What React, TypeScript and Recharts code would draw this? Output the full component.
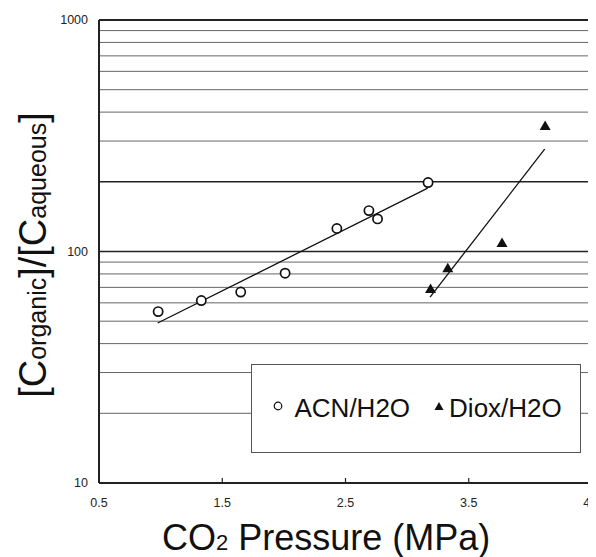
import React from 'react';
import { ScatterChart, Scatter, XAxis, YAxis, ReferenceLine, Legend } from 'recharts';

const acnPressure = [0.98, 1.33, 1.65, 2.01, 2.43, 2.69, 2.76, 3.17];
const acnRatio = [55, 61.4, 66.8, 80.6, 125.7, 150.2, 138.3, 198.5];
const dioxPressure = [3.19, 3.33, 3.77, 4.12];
const dioxRatio = [68.8, 84.7, 108.7, 348.7];
const acnFitPressure = [0.976, 3.167];
const acnFitRatio = [49.1, 187.7];
const dioxFitPressure = [3.186, 4.116];
const dioxFitRatio = [63.5, 276.6];
const xTicks = [0.5, 1.5, 2.5, 3.5, 4.5];
const yTicks = [10, 100, 1000];
const gridMinor = [20, 30, 40, 50, 60, 70, 80, 90, 300, 400, 500, 600, 700, 800, 900];
const gridMajor = [100, 200];

const zip = (ps: number[], rs: number[]) => ps.map((p, i) => ({ p, r: rs[i] }));
const acnData = zip(acnPressure, acnRatio);
const dioxData = zip(dioxPressure, dioxRatio);
const acnFit = zip(acnFitPressure, acnFitRatio);
const dioxFit = zip(dioxFitPressure, dioxFitRatio);

const FONT = '"Liberation Sans", Arial, Helvetica, sans-serif';

const Circle = (props: any) => (
  <circle cx={props.cx} cy={props.cy} r={4.6} fill="#fff" stroke="#111" strokeWidth={1.7} />
);
const Triangle = (props: any) => {
  const { cx, cy } = props;
  return <path d={`M${cx},${cy - 5.5} L${cx + 5.5},${cy + 4} L${cx - 5.5},${cy + 4} Z`} fill="#111" />;
};
const Empty = () => <g />;

const XTick = (props: any) => {
  const { x, y, payload } = props;
  const axisY = y - 15;
  return (
    <g>
      <line x1={x} x2={x} y1={axisY} y2={axisY - 5} stroke="#222" strokeWidth={1.2} />
      <text x={x} y={y} dy="0.71em" textAnchor="middle" fontFamily={FONT} fontSize={12.5} fill="#222">
        {String(payload.value)}
      </text>
    </g>
  );
};

const YTick = (props: any) => {
  const { x, y, payload } = props;
  return (
    <text x={x} y={y} dy="0.355em" textAnchor="end" fontFamily={FONT} fontSize={12.5} fill="#222">
      {String(payload.value)}
    </text>
  );
};

const YTitle = () => (
  <text transform="translate(38,247) rotate(-90)" textAnchor="middle" fontFamily={FONT} fill="#111">
    <tspan fontSize={38}>[C</tspan>
    <tspan fontSize={25}>organic</tspan>
    <tspan fontSize={38}>]/[C</tspan>
    <tspan fontSize={25}>aqueous</tspan>
    <tspan fontSize={38}>]</tspan>
  </text>
);

const XTitle = () => (
  <text x={154} y={542} fontFamily={FONT} fill="#111">
    <tspan fontSize={36}>CO</tspan>
    <tspan fontSize={22}>2</tspan>
    <tspan fontSize={36}> Pressure (MPa)</tspan>
  </text>
);

const LegendBox = () => (
  <div
    style={{
      boxSizing: 'border-box',
      width: 330,
      height: 89,
      border: '1.5px solid #555',
      background: '#fff',
      display: 'flex',
      alignItems: 'center',
      fontFamily: FONT,
      fontSize: 26,
      color: '#111',
      whiteSpace: 'nowrap',
    }}
  >
    <svg width={10} height={10} style={{ marginLeft: 20.5, position: 'relative', top: -3 }}>
      <circle cx={5} cy={5} r={3.8} fill="none" stroke="#111" strokeWidth={1.2} />
    </svg>
    <span style={{ marginLeft: 12 }}>ACN/H2O</span>
    <svg width={10} height={10} style={{ marginLeft: 24, position: 'relative', top: -3 }}>
      <path d="M5,1 L9.5,9 L0.5,9 Z" fill="#111" />
    </svg>
    <span style={{ marginLeft: 5 }}>Diox/H2O</span>
  </div>
);

export default function App() {
  return (
    <ScatterChart width={588} height={549} margin={{ top: 12, right: 4, bottom: 0, left: 0 }}>
      <XAxis
        type="number"
        dataKey="p"
        domain={[0.5, 4.5]}
        ticks={xTicks}
        interval={0}
        allowDataOverflow
        height={74}
        tickLine={false}
        tickSize={0}
        tickMargin={15}
        tick={<XTick />}
        axisLine={{ stroke: '#222', strokeWidth: 2 }}
        label={{ content: XTitle }}
      />
      <YAxis
        type="number"
        dataKey="r"
        scale="log"
        domain={[10, 1000]}
        ticks={yTicks}
        interval={0}
        allowDataOverflow
        width={91}
        tickLine={false}
        tickSize={0}
        tickMargin={11}
        tick={<YTick />}
        axisLine={{ stroke: '#222', strokeWidth: 2 }}
        label={{ content: YTitle }}
      />
      {gridMinor.map((v) => (
        <ReferenceLine key={`g${v}`} y={v} stroke="#666" strokeWidth={1} />
      ))}
      {gridMajor.map((v) => (
        <ReferenceLine key={`m${v}`} y={v} stroke="#222" strokeWidth={1.5} />
      ))}
      <ReferenceLine y={1000} stroke="#222" strokeWidth={2} />
      <ReferenceLine x={4.5} stroke="#222" strokeWidth={2} />
      <Legend
        layout="horizontal"
        verticalAlign="middle"
        align="center"
        content={LegendBox}
        wrapperStyle={{ position: 'absolute', left: 243, top: 356, width: 330, height: 89 }}
      />
      <Scatter data={acnFit} line={{ stroke: '#111', strokeWidth: 1.3 }} shape={Empty} isAnimationActive={false} />
      <Scatter data={dioxFit} line={{ stroke: '#111', strokeWidth: 1.3 }} shape={Empty} isAnimationActive={false} />
      <Scatter data={acnData} shape={Circle} isAnimationActive={false} />
      <Scatter data={dioxData} shape={Triangle} isAnimationActive={false} />
    </ScatterChart>
  );
}
